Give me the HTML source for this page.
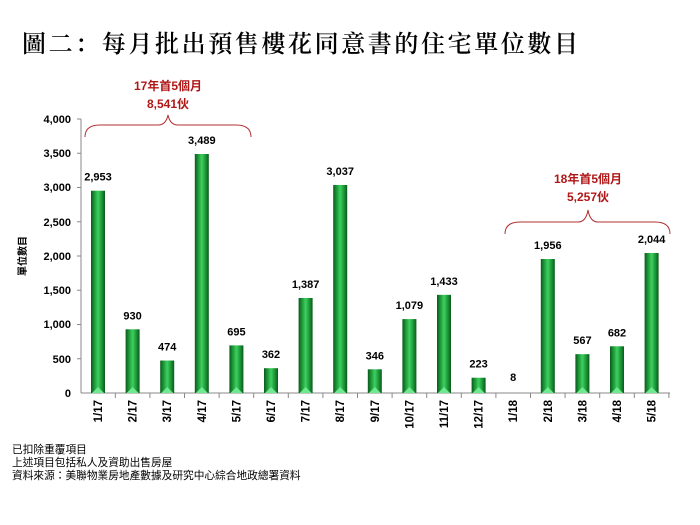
<!DOCTYPE html>
<html><head><meta charset="utf-8"><style>
body{margin:0;background:#fff;}
svg{display:block;font-family:"Liberation Sans","Noto Sans CJK TC",sans-serif;}
.v{font-size:11px;font-weight:bold;fill:#000;text-anchor:middle}
.y{font-size:11px;font-weight:bold;fill:#000;text-anchor:end}
.c{font-size:11.5px;font-weight:bold;fill:#000;text-anchor:end}
.r{font-size:12px;font-weight:bold;fill:#b01818;text-anchor:middle}
.f{font-size:10.7px;fill:#000}
</style></head><body>
<svg width="700" height="525" viewBox="0 0 700 525">
<defs>
<linearGradient id="g" x1="0" x2="1" y1="0" y2="0">
<stop offset="0" stop-color="#0a5a1a"/><stop offset="0.25" stop-color="#1e9a3a"/><stop offset="0.5" stop-color="#3ed060"/><stop offset="0.75" stop-color="#1e9a3a"/><stop offset="1" stop-color="#0a5a1a"/>
</linearGradient>
</defs>
<text x="22" y="52" font-size="24" font-weight="600" font-family="'Noto Serif CJK SC','Noto Sans CJK TC',serif" letter-spacing="2.6">圖二：每月批出預售樓花同意書的住宅單位數目</text>
<text class="r" x="168" y="90">17年首5個月</text>
<text class="r" x="168" y="108">8,541伙</text>
<path d="M85,137 Q85,125 100,125 L158,125 Q166,125 168,115 Q170,125 178,125 L236,125 Q251,125 251,137" fill="none" stroke="#b03030" stroke-width="1"/>
<text class="r" x="588" y="183">18年首5個月</text>
<text class="r" x="588" y="201">5,257伙</text>
<path d="M505,234 Q505,222 520,222 L578,222 Q586,222 588,210 Q590,222 598,222 L655,222 Q670,222 670,234" fill="none" stroke="#b03030" stroke-width="1"/>
<g stroke="#888" stroke-width="1">
<line x1="81" y1="119" x2="81" y2="393"/>
<line x1="81" y1="393" x2="670" y2="393"/>
<line x1="77" y1="119" x2="81" y2="119"/><line x1="77" y1="153.25" x2="81" y2="153.25"/><line x1="77" y1="187.5" x2="81" y2="187.5"/><line x1="77" y1="221.75" x2="81" y2="221.75"/><line x1="77" y1="256" x2="81" y2="256"/><line x1="77" y1="290.25" x2="81" y2="290.25"/><line x1="77" y1="324.5" x2="81" y2="324.5"/><line x1="77" y1="358.75" x2="81" y2="358.75"/>
</g>
<text class="y" x="71" y="123">4,000</text><text class="y" x="71" y="157">3,500</text><text class="y" x="71" y="191">3,000</text><text class="y" x="71" y="226">2,500</text><text class="y" x="71" y="260">2,000</text><text class="y" x="71" y="294">1,500</text><text class="y" x="71" y="328">1,000</text><text class="y" x="71" y="363">500</text><text class="y" x="71" y="397">0</text>
<text transform="translate(26,256) rotate(-90)" font-size="10" font-weight="bold" text-anchor="middle">單位數目</text>
<g id="bars"></g>
<text class="f" x="12" y="453">已扣除重覆項目</text>
<text class="f" x="12" y="466">上述項目包括私人及資助出售房屋</text>
<text class="f" x="12" y="479">資料來源：美聯物業房地產數據及研究中心綜合地政總署資料</text>
</svg>
<script>
var vals=[2953,930,474,3489,695,362,1387,3037,346,1079,1433,223,8,1956,567,682,2044];
var cats=["1/17","2/17","3/17","4/17","5/17","6/17","7/17","8/17","9/17","10/17","11/17","12/17","1/18","2/18","3/18","4/18","5/18"];
var h="";
for(var i=0;i<17;i++){var cx=98+34.6*i,hh=vals[i]*0.0685,t=393-hh;
if(hh>1){h+='<rect x="'+(cx-7)+'" y="'+t+'" width="14" height="'+hh+'" fill="url(#g)"/>';
h+='<polygon points="'+(cx-6)+',393 '+cx+',387 '+(cx+6)+',393" fill="#6fe890"/>';}
var ly=vals[i]<50?381:t-10;
h+='<text class="v" x="'+cx+'" y="'+ly+'">'+vals[i].toLocaleString("en-US")+'</text>';
h+='<text class="c" transform="translate('+(cx+4)+',400) rotate(-90)">'+cats[i]+'</text>';
var bx=cx+17.3;h+='<line x1="'+bx+'" y1="393" x2="'+bx+'" y2="398" stroke="#888"/>';}
document.getElementById("bars").innerHTML=h;
</script>
</body></html>
